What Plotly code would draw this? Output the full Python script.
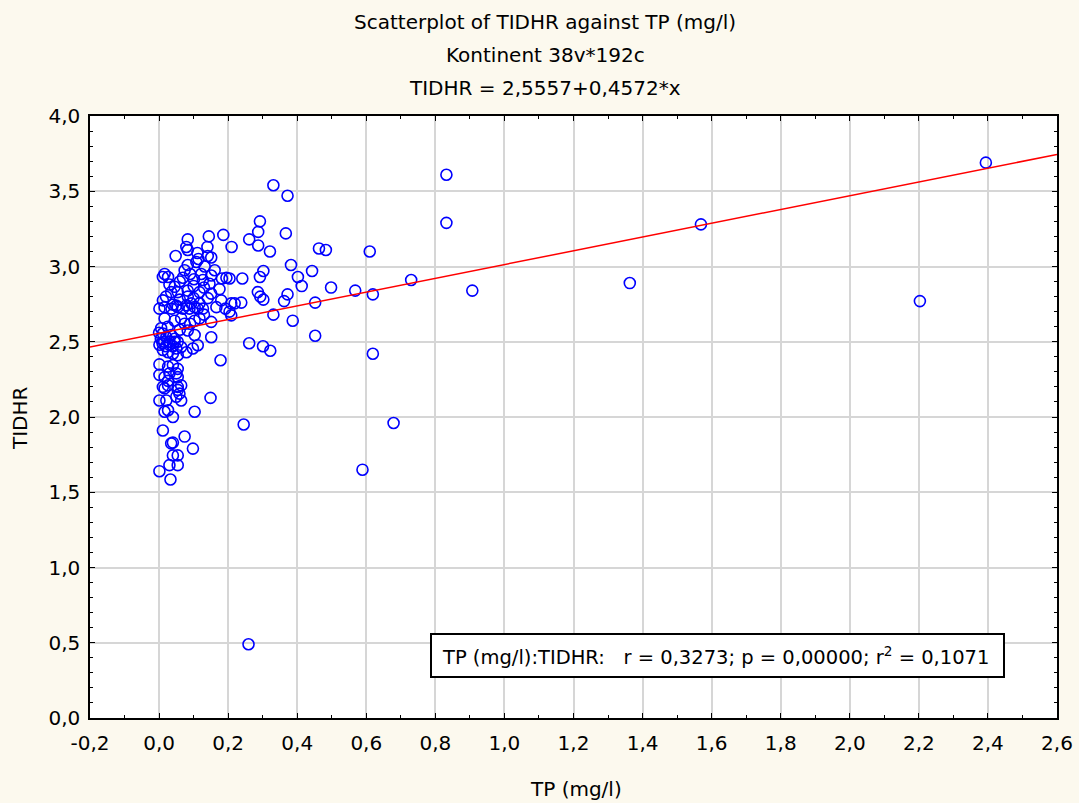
import numpy as np
import plotly.graph_objects as go

# ---- data ----
tp = [
    2.394, 2.203, 1.569, 1.363, 0.907, 0.832, 0.832, 0.730, 0.679, 0.589,
    0.610, 0.619, 0.619, 0.568, 0.498, 0.452, 0.452, 0.443, 0.463, 0.483,
    0.413, 0.402, 0.382, 0.387, 0.372, 0.367, 0.372, 0.362, 0.331, 0.331,
    0.321, 0.322, 0.301, 0.302, 0.302, 0.293, 0.286, 0.292, 0.292, 0.287,
    0.287, 0.261, 0.261, 0.259, 0.241, 0.238, 0.245, 0.210, 0.204, 0.209,
    0.204, 0.192, 0.178, 0.149, 0.151, 0.151, 0.209,
    0.186, 0.144, 0.083, 0.079, 0.140, 0.083, 0.048, 0.111, 0.141, 0.114,
    0.151, 0.083, 0.108, 0.132, 0.016, 0.026, 0.011, 0.074, 0.069, 0.101,
    0.122, 0.151, 0.161, 0.182, 0.195, 0.175, 0.146, 0.127, 0.045, 0.054,
    0.035, 0.083, 0.117, 0.151, 0.180, 0.011, 0.050, 0.083, 0.093, 0.117,
    0.141, 0.219, 0.040, 0.079, 0.127, 0.166, 0.088,
    0.001, 0.016, 0.036, 0.054, 0.069, 0.103, 0.112,
    0.016, 0.045, 0.064, 0.074, 0.103, 0.117,
    0.006, 0.011, 0.021, 0.035, 0.045, 0.054, 0.030, 0.064, 0.083, 0.103,
    0.001, 0.011, 0.026, 0.040, 0.054, 0.050, 0.079, 0.098, 0.112,
    0.001, 0.026, 0.040, 0.054,
    0.001, 0.016, 0.030, 0.026, 0.050, 0.054,
    0.011, 0.026, 0.054, 0.064,
    0.016, 0.054, 0.059, 0.050, 0.064, 0.001, 0.021, 0.016, 0.026, 0.040,
    0.103, 0.011, 0.035, 0.040, 0.074, 0.098, 0.040, 0.054, 0.030, 0.054,
    0.001, 0.033,
    0.000, 0.005, 0.015, 0.020, 0.030, 0.040, 0.045, 0.010,
    0.030, 0.060, 0.090, 0.100, 0.130, 0.020, 0.060, 0.100, 0.025, 0.060,
    0.090, 0.130,
]
tidhr = [
    3.69, 2.77, 3.28, 2.89, 2.84, 3.61, 3.29, 2.91, 1.96, 1.65,
    3.10, 2.815, 2.42, 2.84, 2.86, 2.76, 2.54, 2.97, 3.12, 3.11,
    2.87, 2.93, 3.01, 2.64, 3.47, 3.22, 2.815, 2.77, 3.54, 2.68,
    3.10, 2.44, 2.47, 2.97, 2.78, 2.80, 2.83, 2.93, 3.30, 3.23,
    3.14, 3.18, 2.49, 0.49, 2.92, 2.76, 1.95, 3.13, 2.92, 2.755,
    2.70, 2.72, 2.377, 2.127, 2.53, 2.632, 2.675,
    3.21, 3.20, 3.18, 3.13, 3.13, 3.11, 3.07, 3.09, 3.07, 3.05,
    3.06, 3.01, 3.03, 3.00, 2.95, 2.93, 2.93, 2.975, 2.925, 2.915,
    2.95, 2.94, 2.975, 2.92, 2.925, 2.85, 2.885, 2.91, 2.865, 2.83,
    2.83, 2.84, 2.83, 2.82, 2.775, 2.775, 2.74, 2.80, 2.755, 2.755,
    2.79, 2.755, 2.747, 2.742, 2.72, 2.73, 2.72,
    2.72, 2.73, 2.72, 2.73, 2.72, 2.73, 2.72,
    2.655, 2.64, 2.655, 2.62, 2.64, 2.655,
    2.59, 2.555, 2.53, 2.545, 2.52, 2.50, 2.50, 2.465, 2.575, 2.545,
    2.48, 2.445, 2.43, 2.42, 2.41, 2.455, 2.43, 2.455, 2.477,
    2.35, 2.335, 2.345, 2.32,
    2.28, 2.265, 2.29, 2.24, 2.29, 2.265,
    2.20, 2.21, 2.20, 2.21,
    2.19, 2.18, 2.155, 2.135, 2.11, 2.11, 2.11, 2.035, 2.045, 2.00,
    2.035, 1.91, 1.825, 1.83, 1.87, 1.79, 1.745, 1.745, 1.68, 1.68,
    1.64, 1.585,
    2.56, 2.52, 2.50, 2.47, 2.48, 2.47, 2.50, 2.49,
    2.88, 2.90, 2.95, 2.87, 2.86, 2.80, 2.78, 2.79, 2.60, 2.58,
    2.62, 2.68,
]

intercept = 2.5557
slope = 0.4572

title_lines = [
    "Scatterplot of TIDHR against TP (mg/l)",
    "Kontinent 38v*192c",
    "TIDHR = 2,5557+0,4572*x",
]
stats_text = "TP (mg/l):TIDHR:   r = 0,3273; p = 0,00000; r<sup>2</sup> = 0,1071"

x_ticks = [-0.2, 0.0, 0.2, 0.4, 0.6, 0.8, 1.0, 1.2, 1.4, 1.6, 1.8, 2.0, 2.2, 2.4, 2.6]
x_ticklabels = ["-0,2", "0,0", "0,2", "0,4", "0,6", "0,8", "1,0", "1,2", "1,4",
                "1,6", "1,8", "2,0", "2,2", "2,4", "2,6"]
y_ticks = [0.0, 0.5, 1.0, 1.5, 2.0, 2.5, 3.0, 3.5, 4.0]
y_ticklabels = ["0,0", "0,5", "1,0", "1,5", "2,0", "2,5", "3,0", "3,5", "4,0"]

x_range = [-0.2, 2.6]
y_range = [0.0, 4.0]

# ---- figure ----
W, H = 1079, 803
ml, mr, mt, mb = 90, 22, 116, 85
pw = W - ml - mr
ph = H - mt - mb

def px_x(p):
    return (p - ml) / pw

def px_y(p):
    return (H - mb - p) / ph

FONT = "DejaVu Sans, Arial, sans-serif"
FS = 20

fig = go.Figure()

fig.add_trace(go.Scatter(
    x=tp, y=tidhr, mode="markers",
    marker=dict(symbol="circle-open", size=11, color="#0000FF",
                line=dict(width=1.6, color="#0000FF")),
    hoverinfo="x+y", showlegend=False,
))

lx = np.array(x_range)
fig.add_trace(go.Scatter(
    x=lx, y=intercept + slope * lx, mode="lines",
    line=dict(color="#FF0000", width=1.5), showlegend=False, hoverinfo="skip",
))

axis_common = dict(
    showline=True, linecolor="black", linewidth=1.5, mirror="allticks",
    ticks="inside", ticklen=5, tickcolor="black", tickwidth=1,
    showgrid=True, gridcolor="#D6D6D6", gridwidth=1.5,
    zeroline=False,
    tickfont=dict(family=FONT, size=FS, color="black"),
)

fig.update_xaxes(range=x_range, tickmode="array", tickvals=x_ticks, ticktext=x_ticklabels,
                 ticklabelstandoff=6,
                 minor=dict(ticks="inside", ticklen=3, dtick=0.1, tick0=0, tickcolor="black", showgrid=False),
                 **axis_common)
fig.update_yaxes(range=y_range, tickmode="array", tickvals=y_ticks, ticktext=y_ticklabels,
                 ticklabelstandoff=4,
                 minor=dict(ticks="inside", ticklen=3, dtick=0.1, tick0=0, tickcolor="black", showgrid=False),
                 **axis_common)

annotations = []
for txt, py in zip(title_lines, [22, 55, 88]):
    annotations.append(dict(
        text=txt, xref="paper", yref="paper", x=px_x(545), y=px_y(py),
        xanchor="center", yanchor="middle", showarrow=False,
        font=dict(family=FONT, size=FS, color="black"),
    ))
annotations.append(dict(
    text="TP (mg/l)", xref="paper", yref="paper", x=px_x(576), y=px_y(789),
    xanchor="center", yanchor="middle", showarrow=False,
    font=dict(family=FONT, size=FS, color="black"),
))
annotations.append(dict(
    text="TIDHR", xref="paper", yref="paper", x=px_x(20), y=px_y(418),
    xanchor="center", yanchor="middle", showarrow=False, textangle=-90,
    font=dict(family=FONT, size=FS, color="black"),
))
annotations.append(dict(
    text=stats_text, xref="paper", yref="paper", x=px_x(440), y=px_y(656),
    xanchor="left", yanchor="middle", showarrow=False,
    font=dict(family=FONT, size=19.5, color="black"),
))

fig.update_layout(
    width=W, height=H,
    margin=dict(l=ml, r=mr, t=mt, b=mb, autoexpand=False),
    paper_bgcolor="#FCF9EE", plot_bgcolor="white",
    font=dict(family=FONT, size=FS, color="black"),
    annotations=annotations,
    shapes=[dict(type="rect", xref="paper", yref="paper",
                 x0=px_x(431), x1=px_x(1004), y0=px_y(677), y1=px_y(634),
                 line=dict(color="black", width=2), fillcolor="white", layer="above")],
    showlegend=False,
)

fig.write_html("out.html")
